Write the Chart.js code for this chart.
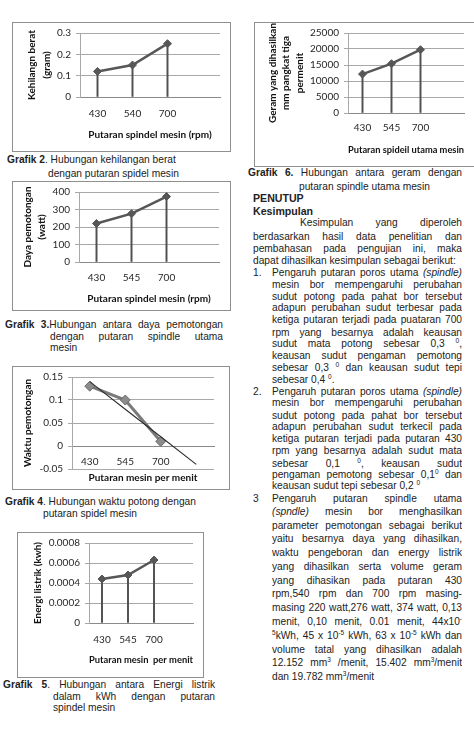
<!DOCTYPE html>
<html><head><meta charset="utf-8">
<script src="https://cdn.jsdelivr.net/npm/chart.js@4"></script>
<style>
html,body{margin:0;padding:0;background:#fff;}
body{width:474px;height:734px;overflow:hidden;position:relative;font-family:"Liberation Sans",Arial,sans-serif;font-size:10.2px;color:#222;}
.box{position:absolute;border:1px solid #8f8f8f;box-sizing:border-box;}
canvas{position:absolute;}
.t{position:absolute;white-space:nowrap;line-height:12px;height:12px;}
.j{text-align:justify;text-align-last:justify;white-space:normal;overflow:hidden;}
sup{font-size:6.5px;vertical-align:4px;line-height:0;}
.h{font-weight:bold;font-size:10.6px;}
</style></head>
<body>
<div class="box" style="left:12px;top:22px;width:219px;height:130px"></div>
<canvas id="c2" width="219" height="130" style="left:12px;top:22px"></canvas>
<div class="box" style="left:12px;top:181px;width:219px;height:130px"></div>
<canvas id="c3" width="219" height="130" style="left:12px;top:181px"></canvas>
<div class="box" style="left:12px;top:366px;width:218px;height:124px"></div>
<canvas id="c4" width="218" height="124" style="left:12px;top:366px"></canvas>
<div class="box" style="left:17px;top:532px;width:187px;height:146px"></div>
<canvas id="c5" width="187" height="146" style="left:17px;top:532px"></canvas>
<div class="box" style="left:254px;top:22px;width:240px;height:145px"></div>
<canvas id="c6" width="240" height="145" style="left:254px;top:22px"></canvas>

<div class="t" style="top:154px;left:7px"><b>Grafik 2</b>. Hubungan kehilangan berat</div>
<div class="t" style="top:168px;left:48px">dengan putaran spidel mesin</div>
<div class="t j" style="top:319px;left:5px;width:218px"><b>Grafik 3.</b>Hubungan antara daya pemotongan</div>
<div class="t j" style="top:331px;left:50px;width:173px">dengan putaran spindle utama</div>
<div class="t" style="top:342px;left:50px">mesin</div>
<div class="t" style="top:496px;left:5px"><b>Grafik 4</b>. Hubungan waktu potong dengan</div>
<div class="t" style="top:508px;left:43px">putaran spidel mesin</div>
<div class="t j" style="top:679px;left:3px;width:212px"><b>Grafik 5</b>. Hubungan antara Energi listrik</div>
<div class="t j" style="top:691px;left:53px;width:162px">dalam kWh dengan putaran</div>
<div class="t" style="top:702px;left:53px">spindel mesin</div>
<div class="t j" style="top:167px;left:248px;width:214px"><b>Grafik 6.</b> Hubungan antara geram dengan</div>
<div class="t" style="top:181px;left:299px">putaran spindle utama mesin</div>

<div class="t h" style="top:192px;left:253px">PENUTUP</div>
<div class="t h" style="top:205px;left:253px">Kesimpulan</div>
<div class="t j" style="top:217px;left:300px;width:162px">Kesimpulan yang diperoleh</div>
<div class="t j" style="top:231px;left:253px;width:209px">berdasarkan hasil data penelitian dan</div>
<div class="t j" style="top:243px;left:253px;width:209px">pembahasan pada pengujian ini, maka</div>
<div class="t" style="top:255px;left:253px">dapat dihasilkan kesimpulan sebagai berikut:</div>
<div class="t" style="top:267px;left:253px">1.</div>
<div class="t j" style="top:267px;left:272px;width:190px">Pengaruh putaran poros utama <i>(spindle)</i></div>
<div class="t j" style="top:279px;left:272px;width:190px">mesin bor mempengaruhi perubahan</div>
<div class="t j" style="top:291px;left:272px;width:190px">sudut potong pada pahat bor tersebut</div>
<div class="t j" style="top:302px;left:272px;width:190px">adapun perubahan sudut terbesar pada</div>
<div class="t j" style="top:314px;left:272px;width:190px">ketiga putaran terjadi pada puataran 700</div>
<div class="t j" style="top:327px;left:272px;width:190px">rpm yang besarnya adalah keausan</div>
<div class="t j" style="top:338px;left:272px;width:190px">sudut mata potong sebesar 0,3 <sup>0</sup>,</div>
<div class="t j" style="top:350px;left:272px;width:190px">keausan sudut pengaman pemotong</div>
<div class="t j" style="top:362px;left:272px;width:190px">sebesar 0,3 <sup>0</sup> dan keausan sudut tepi</div>
<div class="t" style="top:374px;left:272px">sebesar 0,4 <sup>0</sup>.</div>
<div class="t" style="top:386px;left:253px">2.</div>
<div class="t j" style="top:386px;left:272px;width:190px">Pengaruh putaran poros utama <i>(spindle)</i></div>
<div class="t j" style="top:397px;left:272px;width:190px">mesin bor mempengaruhi perubahan</div>
<div class="t j" style="top:410px;left:272px;width:190px">sudut potong pada pahat bor tersebut</div>
<div class="t j" style="top:421px;left:272px;width:190px">adapun perubahan sudut terkecil pada</div>
<div class="t j" style="top:433px;left:272px;width:190px">ketiga putaran terjadi pada putaran 430</div>
<div class="t j" style="top:445px;left:272px;width:190px">rpm yang besarnya adalah sudut mata</div>
<div class="t j" style="top:458px;left:272px;width:190px">sebesar 0,1 <sup>0</sup>, keausan sudut</div>
<div class="t j" style="top:469px;left:272px;width:190px">pengaman pemotong sebesar 0,1<sup>0</sup> dan</div>
<div class="t" style="top:480px;left:272px">keausan sudut tepi sebesar 0,2 <sup>0</sup></div>
<div class="t" style="top:493px;left:253px">3</div>
<div class="t j" style="top:493px;left:272px;width:190px">Pengaruh putaran spindle utama</div>
<div class="t j" style="top:506px;left:272px;width:190px"><i>(spndle)</i> mesin bor menghasilkan</div>
<div class="t j" style="top:520px;left:272px;width:190px">parameter pemotongan sebagai berikut</div>
<div class="t j" style="top:533px;left:272px;width:190px">yaitu besarnya daya yang dihasilkan,</div>
<div class="t j" style="top:547px;left:272px;width:190px">waktu pengeboran dan energy listrik</div>
<div class="t j" style="top:561px;left:272px;width:190px">yang dihasilkan serta volume geram</div>
<div class="t j" style="top:575px;left:272px;width:190px">yang dihasikan pada putaran 430</div>
<div class="t j" style="top:588px;left:272px;width:190px">rpm,540 rpm dan 700 rpm masing-</div>
<div class="t j" style="top:602px;left:272px;width:190px">masing 220 watt,276 watt, 374 watt, 0,13</div>
<div class="t j" style="top:616px;left:272px;width:190px">menit, 0,10 menit, 0.01 menit, 44x10<sup>-</sup></div>
<div class="t j" style="top:630px;left:272px;width:190px"><sup>5</sup>kWh, 45 x 10<sup>-5</sup> kWh, 63 x 10<sup>-5</sup> kWh dan</div>
<div class="t j" style="top:644px;left:272px;width:190px">volume tatal yang dihasilkan adalah</div>
<div class="t j" style="top:657px;left:272px;width:190px">12.152 mm<sup>3</sup> /menit, 15.402 mm<sup>3</sup>/menit</div>
<div class="t" style="top:671px;left:272px">dan 19.782 mm<sup>3</sup>/menit</div>

<script>
// ---- data ----
const rpmLabels2 = ['430', '540', '700', ''];
const weightLoss = [0.12, 0.15, 0.25, null];
const yTicks2 = ['0', '0.1', '0.2', '0.3'];

const rpmLabels = ['430', '545', '700', ''];
const cuttingPower = [220, 276, 374, null];
const yTicks3 = ['0', '100', '200', '300', '400'];

const cuttingTime = [0.13, 0.10, 0.01, null];
const cuttingTimeTrend = [0.14, 0.08, 0.02, -0.04];
const yTicks4 = ['-0.05', '0', '0.05', '0.1', '0.15'];

const energyKwh = [0.00044, 0.00048, 0.00063, null];
const yTicks5 = ['0', '0.0002', '0.0004', '0.0006', '0.0008'];

const chipVolume = [12152, 15402, 19782, null];
const yTicks6 = ['0', '5000', '10000', '15000', '20000', '25000'];

// ---- styles ----
Chart.defaults.font.family = 'Lato, "Open Sans", sans-serif';
Chart.defaults.font.size = 10;
Chart.defaults.color = '#262626';
Chart.defaults.animation = false;
const LINE = '#575757';
const GRID = '#a8a8a8';

function build(id, o) {
  const datasets = [{
    type: 'line', data: o.values, borderColor: o.lineColor || LINE, borderWidth: o.lineWidth || 2.5,
    pointStyle: 'rectRot', pointRadius: o.pointRadius || 4,
    pointBackgroundColor: o.pointColor || LINE, pointBorderColor: o.pointBorder || LINE, pointBorderWidth: 1,
    order: 1
  }];
  if (o.drop) {
    datasets.push({ type: 'bar', data: o.values, backgroundColor: '#505050', barThickness: 1.3, order: 2 });
  }
  if (o.trend) {
    datasets.push({ type: 'line', data: o.trend, borderColor: '#2e2e2e', borderWidth: 1.1, pointRadius: 0, order: 0 });
  }
  const xScale = {
    type: 'category', offset: true, position: o.xPosition || 'bottom',
    grid: { display: false, drawTicks: false },
    border: { display: true, color: '#8a8a8a', width: 1 },
    ticks: { padding: o.xPad, maxRotation: 0, autoSkip: false, color: '#262626' },
    title: o.xAxisExtra ? { display: false } :
      { display: true, text: o.xTitle, color: '#111', font: { size: 10, weight: 'bold' }, padding: { top: 0, bottom: o.xTitlePad } },
    afterFit: s => { if (!o.xAxisExtra) s.height = o.xH; }
  };
  const scales = {
    x: xScale,
    y: {
      min: o.min, max: o.max,
      ticks: { stepSize: o.step, padding: 5, callback: (v, i) => o.yTicks[i], color: '#262626' },
      grid: { color: GRID, tickLength: 4, drawTicks: true },
      border: { display: true, color: GRID },
      title: { display: true, text: o.yTitle, color: '#111', font: { size: 10, weight: 'bold', lineHeight: o.yLH || 1.2 }, padding: { top: o.yTitlePad, bottom: 0 } },
      afterFit: s => { s.width = o.yW; }
    }
  };
  if (o.xAxisExtra) {
    scales.xt = {
      type: 'category', position: 'bottom',
      grid: { display: false, drawTicks: false }, border: { display: false },
      ticks: { display: false },
      title: { display: true, text: o.xTitle, color: '#111', font: { size: 10, weight: 'bold' }, padding: { top: 0, bottom: o.xTitlePad } },
      afterFit: s => { s.height = o.xH; }
    };
  }
  new Chart(document.getElementById(id), {
    type: 'bar',
    data: { labels: o.labels, datasets },
    options: {
      responsive: false, animation: false,
      layout: { padding: { left: 0, top: o.padTop, right: o.padRight, bottom: 0 } },
      plugins: { legend: { display: false }, tooltip: { enabled: false } },
      scales
    }
  });
}

build('c2', { labels: rpmLabels2, values: weightLoss, drop: true, min: 0, max: 0.3, step: 0.1, yTicks: yTicks2,
  yTitle: ['Kehilangn berat', '(gram)'], yLH: 1.5, yTitlePad: 12, yW: 68, padTop: 11, padRight: 11,
  xTitle: 'Putaran spindel mesin (rpm)', xH: 55, xPad: 11, xTitlePad: 11 });

build('c3', { labels: rpmLabels, values: cuttingPower, drop: true, min: 0, max: 400, step: 100, yTicks: yTicks3,
  yTitle: ['Daya pemotongan', '(watt)'], yLH: 1.4, yTitlePad: 9, yW: 67, padTop: 10, padRight: 12,
  xTitle: 'Putaran spindel mesin (rpm)', xH: 49, xPad: 10, xTitlePad: 6 });

build('c4', { labels: rpmLabels, values: cuttingTime, trend: cuttingTimeTrend, drop: false,
  lineColor: '#7a7a7a', lineWidth: 3, pointRadius: 5, pointColor: '#8c8c8c', pointBorder: '#6a6a6a',
  min: -0.05, max: 0.15, step: 0.05, yTicks: yTicks4,
  yTitle: 'Waktu pemotongan', yTitlePad: 10, yW: 60, padTop: 10, padRight: 16,
  xPosition: { y: 0 }, xAxisExtra: true,
  xTitle: 'Putaran mesin per menit', xH: 21, xPad: 10, xTitlePad: 6 });

build('c5', { labels: rpmLabels, values: energyKwh, drop: true, min: 0, max: 0.0008, step: 0.0002, yTicks: yTicks5,
  yTitle: 'Energi listrik (kwh)', yTitlePad: 15, yW: 72, padTop: 11, padRight: 11,
  xTitle: 'Putaran mesin  per menit', xH: 55, xPad: 11, xTitlePad: 12 });

build('c6', { labels: rpmLabels, values: chipVolume, drop: true, min: 0, max: 25000, step: 5000, yTicks: yTicks6,
  yTitle: ['Geram yang dihasilkan', 'mm pangkat tiga', 'permenit'], yLH: 1.35, yTitlePad: 12, yW: 94, padTop: 11, padRight: 30,
  xTitle: 'Putaran spideil utama mesin', xH: 54, xPad: 9, xTitlePad: 11 });
</script>
</body></html>
